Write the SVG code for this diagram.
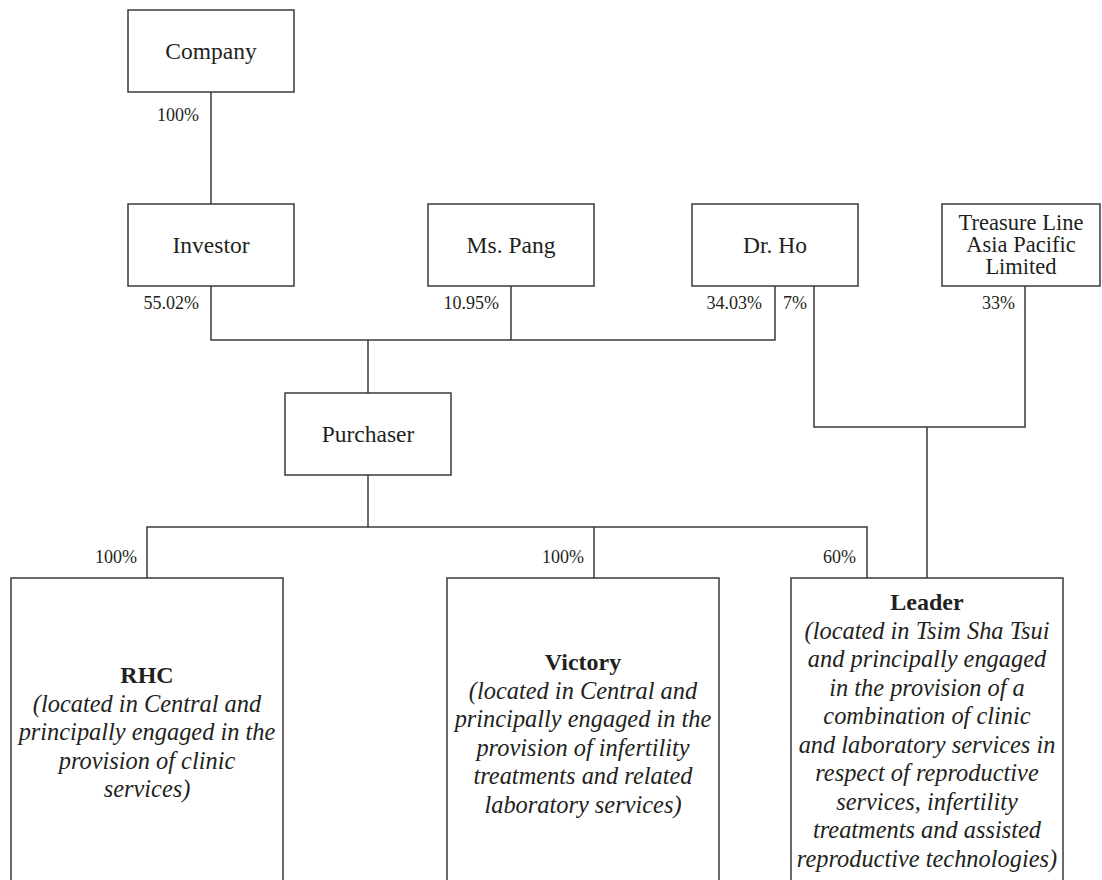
<svg xmlns="http://www.w3.org/2000/svg" width="1102" height="880" viewBox="0 0 1102 880">
<style>
.box{fill:#fff;stroke:#3a3a3a;stroke-width:1.5}
.ln{fill:none;stroke:#3a3a3a;stroke-width:1.5}
text{font-family:"Liberation Serif","Times New Roman",serif;fill:#231f20}
.t{font-size:23.5px;text-anchor:middle}
.tl{font-size:22.5px;text-anchor:middle}
.b{font-size:24px;font-weight:bold;text-anchor:middle}
.i{font-size:24.4px;font-style:italic;text-anchor:middle}
.p{font-size:18px;text-anchor:end}
.ps{font-size:18px;text-anchor:start}
</style>
<rect width="1102" height="880" fill="#fff"/>
<g id="connectors">
<path class="ln" d="M211,92 V204"/>
<path class="ln" d="M211,286 V340 H775 V286"/>
<path class="ln" d="M511,286 V340"/>
<path class="ln" d="M368,340 V393"/>
<path class="ln" d="M814,286 V427 H1025 V286"/>
<path class="ln" d="M927,427 V578"/>
<path class="ln" d="M368,475 V527"/>
<path class="ln" d="M147,578 V527 H867 V578"/>
<path class="ln" d="M594,527 V578"/>
<text class="p" x="199" y="121">100%</text>
<text class="p" x="199" y="309">55.02%</text>
<text class="p" x="499" y="309">10.95%</text>
<text class="p" x="762" y="309">34.03%</text>
<text class="ps" x="783" y="309">7%</text>
<text class="p" x="1015" y="309">33%</text>
<text class="p" x="137" y="563">100%</text>
<text class="p" x="584" y="563">100%</text>
<text class="p" x="856" y="563">60%</text>
</g>
<g id="company"><rect class="box" x="128" y="10" width="166" height="82"/><text class="t" x="211" y="59">Company</text></g>
<g id="investor"><rect class="box" x="128" y="204" width="166" height="82"/><text class="t" x="211" y="253">Investor</text></g>
<g id="mspang"><rect class="box" x="428" y="204" width="166" height="82"/><text class="t" x="511" y="253">Ms. Pang</text></g>
<g id="drho"><rect class="box" x="692" y="204" width="166" height="82"/><text class="t" x="775" y="253">Dr. Ho</text></g>
<g id="treasure"><rect class="box" x="942" y="204" width="158" height="82"/>
<text class="tl" x="1021" y="230">Treasure Line</text>
<text class="tl" x="1021" y="252">Asia Pacific</text>
<text class="tl" x="1021" y="274">Limited</text></g>
<g id="purchaser"><rect class="box" x="285" y="393" width="166" height="82"/><text class="t" x="368" y="442">Purchaser</text></g>
<g id="rhc"><rect class="box" x="11" y="578" width="272" height="310"/>
<text class="b" x="147" y="683">RHC</text>
<text class="i" x="147" y="711.5">(located in Central and</text>
<text class="i" x="147" y="740">principally engaged in the</text>
<text class="i" x="147" y="768.5">provision of clinic</text>
<text class="i" x="147" y="797">services)</text></g>
<g id="victory"><rect class="box" x="447" y="578" width="272" height="310"/>
<text class="b" x="583" y="670">Victory</text>
<text class="i" x="583" y="698.5">(located in Central and</text>
<text class="i" x="583" y="727">principally engaged in the</text>
<text class="i" x="583" y="755.5">provision of infertility</text>
<text class="i" x="583" y="784">treatments and related</text>
<text class="i" x="583" y="812.5">laboratory services)</text></g>
<g id="leader"><rect class="box" x="791" y="578" width="272" height="310"/>
<text class="b" x="927" y="610">Leader</text>
<text class="i" x="927" y="638.5">(located in Tsim Sha Tsui</text>
<text class="i" x="927" y="667">and principally engaged</text>
<text class="i" x="927" y="695.5">in the provision of a</text>
<text class="i" x="927" y="724">combination of clinic</text>
<text class="i" x="927" y="752.5">and laboratory services in</text>
<text class="i" x="927" y="781">respect of reproductive</text>
<text class="i" x="927" y="809.5">services, infertility</text>
<text class="i" x="927" y="838">treatments and assisted</text>
<text class="i" x="927" y="866.5">reproductive technologies)</text></g>
</svg>
